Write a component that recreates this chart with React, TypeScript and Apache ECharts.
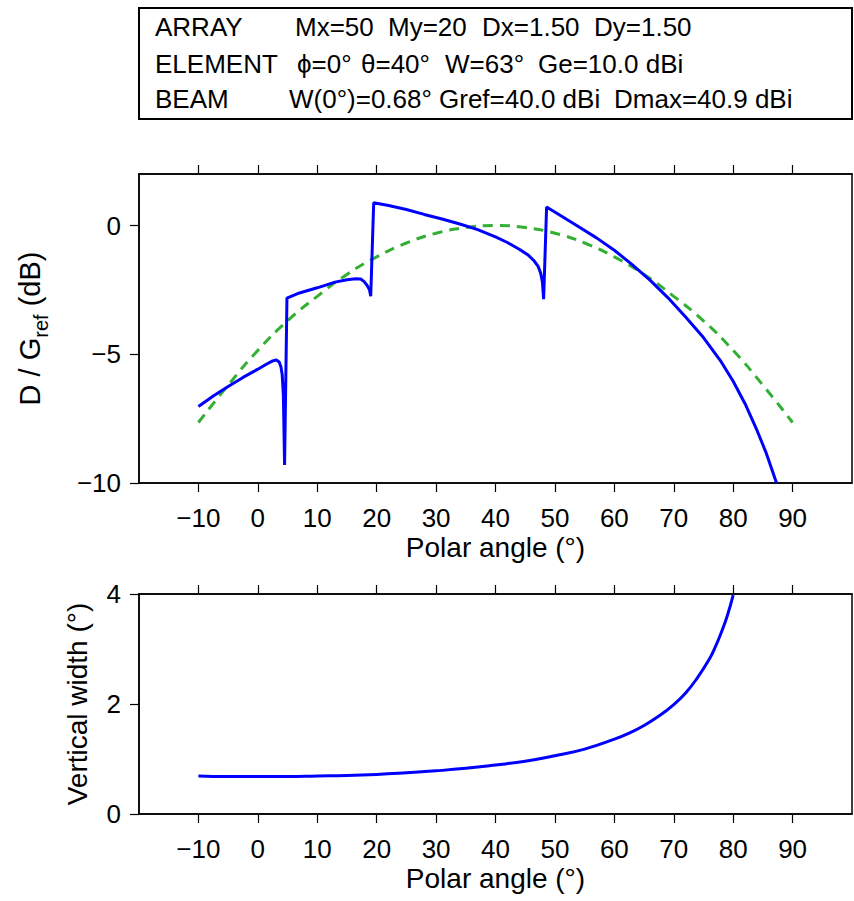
import React, { useEffect, useRef } from "react";
import * as echarts from "echarts";

// ---- data ----
const angleTicks = [-10, 0, 10, 20, 30, 40, 50, 60, 70, 80, 90];
const dbTicks = [-10, -5, 0];
const widthTicks = [0, 2, 4];

// Array directivity relative to Gref (dB)
const dAngles = [-10, -7.5, -5, -2.5, 0, 1.5, 2.5, 3.1, 3.6, 3.9, 4.1, 4.3, 4.5, 4.9, 7, 10, 13, 15, 16.5, 17.3, 17.9, 18.4, 18.8, 19.0, 19.5, 22, 25, 28, 31, 34, 37, 40, 42, 44, 45.5, 46.5, 47.2, 47.6, 47.9, 48.1, 48.6, 51, 54, 57, 60, 63, 66, 69, 72, 75, 78, 80, 82, 84, 85.5, 87.3];
const dValues = [-7.03, -6.62, -6.25, -5.9, -5.58, -5.38, -5.26, -5.22, -5.3, -5.5, -5.8, -6.6, -9.3, -2.82, -2.62, -2.42, -2.2, -2.11, -2.07, -2.08, -2.18, -2.33, -2.5, -2.75, 0.88, 0.78, 0.62, 0.43, 0.25, 0.06, -0.16, -0.44, -0.66, -0.92, -1.15, -1.37, -1.6, -1.85, -2.2, -2.86, 0.72, 0.38, -0.05, -0.48, -0.96, -1.52, -2.12, -2.8, -3.55, -4.35, -5.3, -6.05, -6.92, -7.95, -8.8, -10.0];

// Element pattern (dB)
const eAngles = [-10, -5, 0, 5, 10, 15, 20, 25, 30, 35, 40, 45, 50, 55, 60, 65, 70, 75, 80, 85, 90];
const eValues = [-7.65, -6.2, -4.85, -3.7, -2.75, -1.9, -1.22, -0.68, -0.3, -0.08, 0, -0.08, -0.3, -0.68, -1.22, -1.9, -2.75, -3.7, -4.85, -6.2, -7.65];

// Vertical beam width (deg)
const wAngles = [-10, -5, 0, 5, 10, 15, 20, 25, 30, 35, 40, 45, 50, 55, 60, 62.5, 65, 67.5, 70, 72, 74, 76, 77, 78, 79, 80];
const wValues = [0.69, 0.68, 0.68, 0.68, 0.69, 0.7, 0.72, 0.75, 0.785, 0.83, 0.89, 0.96, 1.06, 1.18, 1.36, 1.47, 1.61, 1.78, 1.99, 2.2, 2.48, 2.82, 3.04, 3.3, 3.6, 3.98];

// Info box texts
const boxLabels = ["ARRAY", "ELEMENT", "BEAM"];
const boxItems: string[][] = [
  ["Mx=50", "My=20", "Dx=1.50", "Dy=1.50"],
  ["\u03d5=0\u00b0", "\u03b8=40\u00b0", "W=63\u00b0", "Ge=10.0 dBi"],
  ["W(0\u00b0)=0.68\u00b0", "Gref=40.0 dBi", "Dmax=40.9 dBi"],
];

const FONT = "'Liberation Sans', Arial, Helvetica, sans-serif";

const minusFmt = (v: number) => String(v).replace("-", "\u2212");

function xAxes(gridIndex: number) {
  const common = {
    type: "value" as const,
    gridIndex,
    min: -20,
    max: 100,
    interval: 10,
    splitLine: { show: false },
    axisLine: { show: true, onZero: false, lineStyle: { color: "#000", width: 1.5 } },
    axisTick: {
      show: true,
      inside: false,
      length: 9,
      customValues: angleTicks,
      lineStyle: { color: "#000", width: 1.2 },
    },
  };
  return [
    {
      ...common,
      position: "bottom",
      name: "Polar angle (\u00b0)",
      nameLocation: "middle",
      nameGap: 50,
      nameTextStyle: { fontFamily: FONT, fontSize: 28, color: "#000" },
      axisLabel: {
        show: true,
        customValues: angleTicks,
        formatter: minusFmt,
        fontFamily: FONT,
        fontSize: 26,
        color: "#000",
        margin: 22,
      },
    },
    {
      ...common,
      position: "top",
      axisLabel: { show: false },
    },
  ];
}

export default function App() {
  const ref = useRef<HTMLDivElement>(null);

  useEffect(() => {
    if (!ref.current) return;
    const chart = echarts.init(ref.current, undefined, { renderer: "svg" });

    const boxLeft = 139;
    const boxTop = 8;
    const boxRight = 852;
    const boxBottom = 119;
    const lineY = [27, 64, 99];
    const itemX = [
      [295, 388, 482, 594],
      [297, 361, 445, 538],
      [289, 439, 614],
    ];

    const graphic: any[] = [
      {
        type: "rect",
        shape: { x: boxLeft, y: boxTop, width: boxRight - boxLeft, height: boxBottom - boxTop },
        style: { fill: "#fff", stroke: "#000", lineWidth: 2 },
      },
    ];
    boxLabels.forEach((lab, row) => {
      graphic.push({
        type: "text",
        x: 155,
        y: lineY[row],
        style: { text: lab, fill: "#000", font: `26px ${FONT}`, textAlign: "left", textVerticalAlign: "middle" },
      });
      boxItems[row].forEach((t, k) => {
        graphic.push({
          type: "text",
          x: itemX[row][k],
          y: lineY[row],
          style: { text: t, fill: "#000", font: `26px ${FONT}`, textAlign: "left", textVerticalAlign: "middle" },
        });
      });
    });

    const yCommon = {
      type: "value" as const,
      position: "left" as const,
      splitLine: { show: false },
      axisLine: { show: true, onZero: false, lineStyle: { color: "#000", width: 1.5 } },
    };

    const option: any = {
      animation: false,
      backgroundColor: "#fff",
      graphic,
      grid: [
        { left: 139, top: 174, right: 2, height: 309, show: true, borderColor: "#000", borderWidth: 1.5, backgroundColor: "transparent" },
        { left: 139, top: 594, right: 2, height: 220, show: true, borderColor: "#000", borderWidth: 1.5, backgroundColor: "transparent" },
      ],
      xAxis: [...xAxes(0), ...xAxes(1)],
      yAxis: [
        {
          ...yCommon,
          gridIndex: 0,
          min: -10,
          max: 2,
          interval: 5,
          axisTick: { show: true, inside: false, length: 9, customValues: dbTicks, lineStyle: { color: "#000", width: 1.2 } },
          axisLabel: { customValues: dbTicks, formatter: minusFmt, fontFamily: FONT, fontSize: 26, color: "#000", margin: 18 },
          name: "{n|D / G}{s|ref}{n| (dB)}",
          nameLocation: "middle",
          nameRotate: 90,
          nameGap: 88,
          nameTextStyle: {
            fontFamily: FONT,
            color: "#000",
            rich: {
              n: { fontFamily: FONT, fontSize: 29, color: "#000", lineHeight: 34 },
              s: { fontFamily: FONT, fontSize: 20, color: "#000", padding: [22, 0, 0, 0] },
            },
          },
        },
        {
          ...yCommon,
          gridIndex: 1,
          min: 0,
          max: 4,
          interval: 2,
          axisTick: { show: true, inside: false, length: 9, customValues: widthTicks, lineStyle: { color: "#000", width: 1.2 } },
          axisLabel: { customValues: widthTicks, fontFamily: FONT, fontSize: 26, color: "#000", margin: 18 },
          name: "Vertical width (\u00b0)",
          nameLocation: "middle",
          nameRotate: 90,
          nameGap: 48,
          nameTextStyle: { fontFamily: FONT, fontSize: 28, color: "#000" },
        },
      ],
      series: [
        {
          type: "line",
          xAxisIndex: 0,
          yAxisIndex: 0,
          data: eAngles.map((a, i) => [a, eValues[i]]),
          smooth: true,
          showSymbol: false,
          lineStyle: { color: "#33b033", width: 3, type: [10, 7] },
          z: 2,
        },
        {
          type: "line",
          xAxisIndex: 0,
          yAxisIndex: 0,
          data: dAngles.map((a, i) => [a, dValues[i]]),
          showSymbol: false,
          lineStyle: { color: "#0000ff", width: 3 },
          z: 3,
        },
        {
          type: "line",
          xAxisIndex: 2,
          yAxisIndex: 1,
          data: wAngles.map((a, i) => [a, wValues[i]]),
          smooth: true,
          showSymbol: false,
          lineStyle: { color: "#0000ff", width: 3 },
          z: 3,
        },
      ],
    };

    chart.setOption(option);
    return () => chart.dispose();
  }, []);

  return (
    <div
      ref={ref}
      style={{ position: "fixed", left: 0, top: 0, width: 854, height: 901, background: "#fff" }}
    />
  );
}
